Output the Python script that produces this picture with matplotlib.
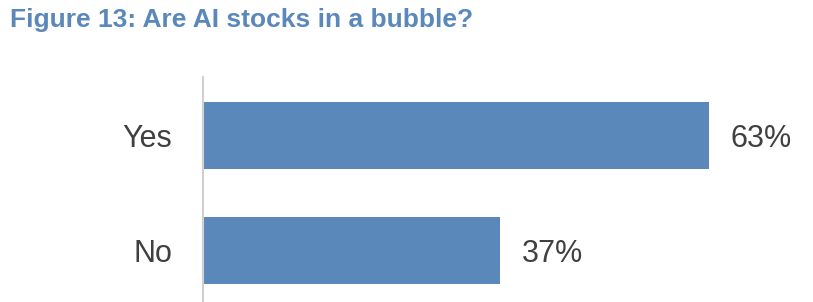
import matplotlib
matplotlib.use('Agg')
import matplotlib.pyplot as plt

# данные опроса
categories = ['No', 'Yes']
values = [37, 63]
value_labels = ['37%', '63%']

BAR_COLOR = '#5B88BA'
TITLE_COLOR = '#5B88BA'
TEXT_COLOR = '#404040'
FONT = ['Liberation Sans Narrow', 'Liberation Sans', 'DejaVu Sans']

fig = plt.figure(figsize=(8.13, 3.02), dpi=100)
ax = fig.add_axes([203 / 813, 0, 610 / 813, 225 / 302])

ypos = list(range(len(categories)))
ax.barh(ypos, values, height=0.583, color=BAR_COLOR)

for y, v, lab in zip(ypos, values, value_labels):
    ax.annotate(lab, (v, y), textcoords='offset points', xytext=(16, 0),
                va='center_baseline', ha='left', fontsize=22,
                color=TEXT_COLOR, family=FONT)

ax.set_xlim(0, 76.0)
ax.set_ylim(-0.448, 1.509)
ax.set_yticks(ypos)
ax.set_yticklabels(categories, fontsize=22, color=TEXT_COLOR, family=FONT)
ax.tick_params(axis='y', length=0, pad=22)
ax.set_xticks([])

for side in ['top', 'right', 'bottom']:
    ax.spines[side].set_visible(False)
ax.spines['left'].set_color('#D0D0D0')
ax.spines['left'].set_linewidth(1.5)

fig.text(10 / 813, 1 - 20 / 302, 'Figure 13: Are AI stocks in a bubble?',
         fontsize=19, fontweight='bold', color=TITLE_COLOR, family=FONT,
         va='center', ha='left')

fig.savefig('out.png', dpi=100)
